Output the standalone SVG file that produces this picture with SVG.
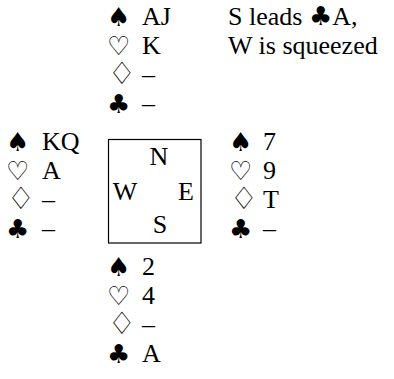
<svg xmlns="http://www.w3.org/2000/svg" width="394" height="379" viewBox="0 0 394 379">
  <style>
    text { font-family: "Liberation Serif", "DejaVu Serif", serif; font-size: 26px; fill: #000; }
    .suit { font-family: "DejaVu Sans", sans-serif; font-size: 26px; }
    .dia { font-size: 31px; }
  </style>
  <rect width="394" height="379" fill="#fff"/>

  <!-- North hand -->
  <g id="north">
    <text class="suit" x="107" y="26">♠</text><text x="142" y="25">AJ</text>
    <text class="suit" x="107" y="55">♡</text><text x="142" y="54">K</text>
    <text class="suit dia" x="108" y="84">♢</text><text x="142" y="83">–</text>
    <text class="suit" x="107" y="113">♣</text><text x="142" y="112">–</text>
  </g>

  <!-- Commentary -->
  <g id="note">
    <text x="228" y="25">S leads <tspan class="suit" font-size="25">♣</tspan>A,</text>
    <text x="228" y="54">W is squeezed</text>
  </g>

  <!-- West hand -->
  <g id="west">
    <text class="suit" x="6" y="151">♠</text><text x="42" y="150">KQ</text>
    <text class="suit" x="6" y="180">♡</text><text x="42" y="179">A</text>
    <text class="suit dia" x="7" y="209">♢</text><text x="42" y="208">–</text>
    <text class="suit" x="6" y="238">♣</text><text x="42" y="237">–</text>
  </g>

  <!-- Compass box -->
  <g id="compass">
    <rect x="108.5" y="139.5" width="92.5" height="103.5" fill="none" stroke="#000" stroke-width="1.2"/>
    <text x="159" y="165" text-anchor="middle">N</text>
    <text x="125" y="200" text-anchor="middle">W</text>
    <text x="186" y="200" text-anchor="middle">E</text>
    <text x="160" y="233" text-anchor="middle">S</text>
  </g>

  <!-- East hand -->
  <g id="east">
    <text class="suit" x="229" y="151">♠</text><text x="263" y="150">7</text>
    <text class="suit" x="229" y="180">♡</text><text x="263" y="179">9</text>
    <text class="suit dia" x="230" y="209">♢</text><text x="263" y="208">T</text>
    <text class="suit" x="229" y="238">♣</text><text x="263" y="237">–</text>
  </g>

  <!-- South hand -->
  <g id="south">
    <text class="suit" x="107" y="276">♠</text><text x="142" y="275">2</text>
    <text class="suit" x="107" y="305">♡</text><text x="142" y="304">4</text>
    <text class="suit dia" x="108" y="334">♢</text><text x="142" y="333">–</text>
    <text class="suit" x="107" y="363">♣</text><text x="142" y="362">A</text>
  </g>
</svg>
